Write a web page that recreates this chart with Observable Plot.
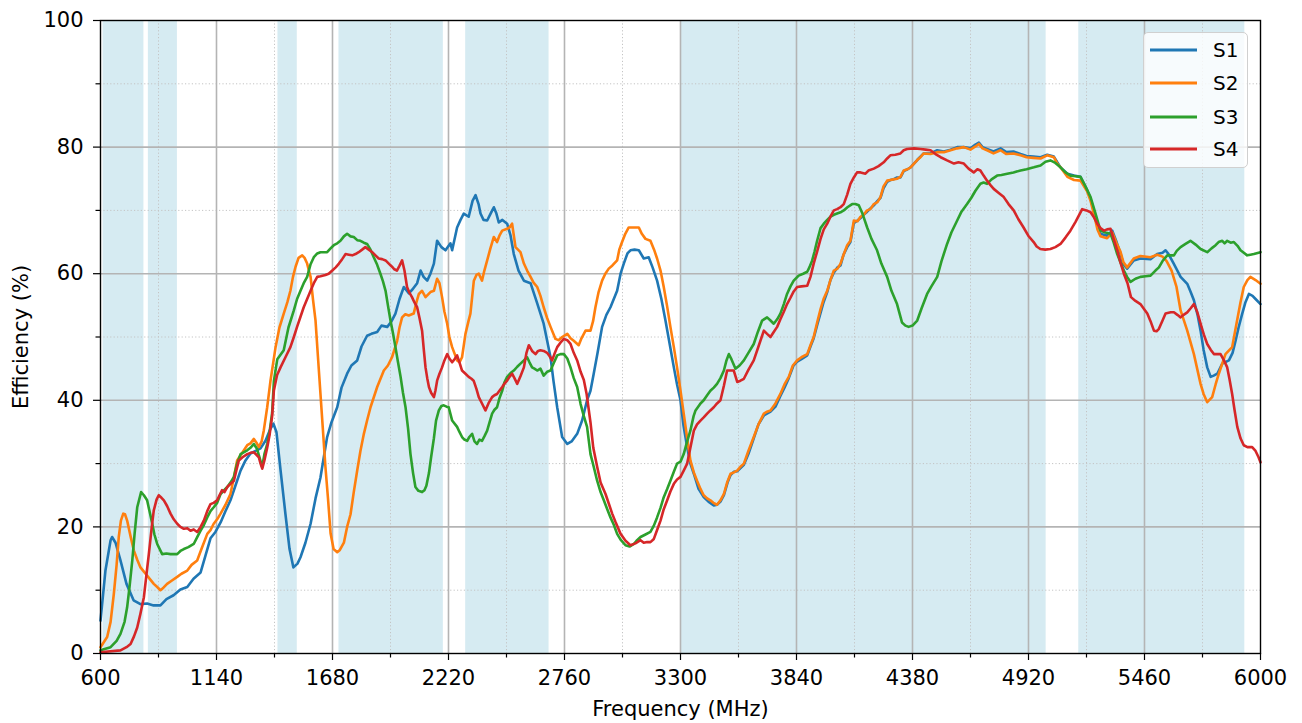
<!DOCTYPE html>
<html>
<head>
<meta charset="utf-8">
<script src="https://cdn.jsdelivr.net/npm/d3@7"></script>
<script src="https://cdn.jsdelivr.net/npm/@observablehq/plot@0.6"></script>
<style>
  html, body { margin: 0; padding: 0; background: #fff; }
  #wrap { position: relative; width: 1302px; height: 723px; }
  #wrap svg { display: block; }
  #legend { position: absolute; left: 1143px; top: 32px; width: 105px; height: 136px; box-sizing: border-box;
    border: 1px solid #d0d0d0; border-radius: 5px; background: rgba(255,255,255,0.8); }
</style>
</head>
<body>
<div id="wrap"></div>
<script>
const seriesNames = ["S1", "S2", "S3", "S4"];
const seriesColors = ["#1f77b4", "#ff7f0e", "#2ca02c", "#d62728"];

// [frequency MHz, efficiency %]
const s1 = [[600,5.2],[623,13.1],[647,17.9],[654,18.4],[670,17.5],[693,14.7],[721,11],[754,8.4],[786,7.8],[817,7.9],[847,7.6],[879,7.6],[907,8.6],[940,9.2],[972,10.1],[1004,10.5],[1033,11.8],[1066,12.8],[1089,15.5],[1112,18.2],[1135,19.2],[1159,20.7],[1182,22.5],[1205,24.2],[1228,26.5],[1252,28.9],[1275,30.5],[1298,31.6],[1322,32],[1345,32.4],[1368,33.6],[1391,35.5],[1405,36.3],[1419,35],[1438,29],[1461,22],[1480,16.5],[1498,13.6],[1517,14.2],[1531,15.2],[1554,17.5],[1578,20.5],[1601,24.5],[1624,27.8],[1655,34.2],[1675,36.5],[1702,38.9],[1722,42],[1748,44.2],[1768,45.5],[1795,46.3],[1815,48.5],[1841,50.2],[1861,50.5],[1888,50.8],[1908,51.8],[1935,51.6],[1955,52.5],[1973,53.7],[1992,56],[2012,57.9],[2035,56.9],[2052,57.5],[2074,58.5],[2090,60.5],[2104,59.5],[2121,58.9],[2136,60],[2152,61.6],[2167,65.2],[2187,64.2],[2206,63.7],[2229,64.8],[2237,63.7],[2260,67.3],[2276,68.5],[2291,69.5],[2314,69],[2332,71.5],[2346,72.4],[2360,71],[2369,69.5],[2383,68.5],[2400,68.4],[2416,69.5],[2431,70.5],[2443,69.5],[2454,68.1],[2471,68.5],[2493,67.9],[2509,66],[2524,63.1],[2546,60.5],[2571,58.9],[2602,58.5],[2633,55.3],[2663,52.1],[2695,46.8],[2709,43],[2726,38.9],[2749,34.2],[2773,33.1],[2793,33.5],[2819,34.7],[2842,36.8],[2865,40],[2881,41.5],[2896,44.2],[2914,47.5],[2935,51.6],[2955,53.5],[2974,54.7],[3005,57.3],[3021,60],[3036,61.6],[3053,63.2],[3067,63.7],[3086,63.8],[3106,63.7],[3129,62.4],[3152,62.6],[3170,61],[3191,58.9],[3211,56],[3230,52.6],[3249,49],[3269,45.2],[3284,42.5],[3300,40],[3314,36],[3331,32.6],[3346,30],[3362,28.4],[3384,26],[3408,24.7],[3430,24],[3455,23.4],[3470,23.5],[3486,24],[3502,25],[3519,27],[3533,28.2],[3548,28.7],[3565,28.8],[3595,29.8],[3616,31.5],[3641,34],[3663,36.2],[3688,37.6],[3719,38.2],[3742,39],[3765,40.7],[3784,42],[3804,43.5],[3826,45.5],[3843,46.1],[3863,46.5],[3890,47.1],[3905,48.5],[3920,49.8],[3937,52],[3952,53.8],[3966,55.5],[3983,57.1],[3998,59],[4014,60.2],[4031,61],[4045,61.3],[4059,63],[4076,64.2],[4091,65],[4107,68],[4124,68.4],[4138,68.8],[4152,69.3],[4169,69.8],[4184,70.3],[4200,70.8],[4217,71.5],[4231,72],[4245,73.5],[4262,74.5],[4277,74.8],[4291,74.9],[4308,75.2],[4324,75.2],[4339,76.2],[4357,76.5],[4371,76.8],[4387,77.4],[4403,78],[4417,78.5],[4432,79],[4464,79],[4495,79.5],[4526,79.3],[4557,79.6],[4588,80],[4619,80],[4650,79.8],[4673,80.4],[4689,80.7],[4706,80],[4727,79.7],[4757,79.3],[4790,79.8],[4817,79.2],[4850,79.3],[4883,78.9],[4911,78.6],[4943,78.5],[4976,78.4],[5007,78.8],[5038,78.5],[5054,77.6],[5069,76.8],[5101,75.8],[5132,75.5],[5162,75.3],[5193,73.2],[5209,71.8],[5224,70],[5241,67.5],[5255,66.3],[5286,66],[5310,66.8],[5330,65],[5348,63.2],[5362,61.5],[5379,60.8],[5410,62.1],[5441,62.4],[5488,62.3],[5519,63.1],[5544,63.3],[5558,63.7],[5572,63.1],[5596,61.6],[5628,59.5],[5659,58.4],[5674,57.2],[5690,55.8],[5707,53.5],[5721,51],[5735,48],[5752,45.2],[5768,43.7],[5782,43.9],[5799,44.2],[5822,45.8],[5853,46.3],[5870,47.5],[5884,49.4],[5898,51.5],[5915,53.7],[5930,55.5],[5946,56.8],[5963,56.5],[5977,56],[6000,55.2]];

const s2 = [[600,1],[631,2.6],[647,5],[662,9.4],[675,14],[685,18.4],[695,21],[706,22.1],[714,22],[724,21],[740,18.5],[755,16.3],[771,14.8],[786,13.6],[817,12.3],[848,11],[864,10.5],[879,10],[893,10.4],[910,11],[931,11.5],[957,12.1],[977,12.6],[1004,13.1],[1024,14],[1050,14.7],[1070,16.5],[1097,18.9],[1112,19.5],[1127,20.5],[1143,21.2],[1159,22.1],[1182,23.5],[1205,25.2],[1219,27.5],[1236,30.5],[1256,31.5],[1283,32.9],[1298,33.2],[1314,33.9],[1326,33.3],[1337,32.6],[1350,33.5],[1360,35.2],[1376,38.9],[1391,43],[1415,48.4],[1433,51.5],[1453,53.7],[1470,55.5],[1484,57.3],[1496,59.5],[1508,61.1],[1522,62.5],[1539,62.9],[1550,62.5],[1562,61.6],[1570,60.5],[1578,59.5],[1589,56],[1601,52.6],[1612,47],[1624,41],[1636,35],[1647,29.5],[1659,24.5],[1671,19],[1685,16.5],[1702,16],[1713,16.3],[1733,17.5],[1748,20],[1764,22],[1779,25.5],[1795,28.9],[1810,32],[1826,34.7],[1841,36.8],[1857,38.9],[1888,42.1],[1919,44.7],[1938,45.5],[1957,46.8],[1981,49.4],[1992,51.5],[2004,53.1],[2019,53.6],[2035,53.4],[2058,53.7],[2071,55.5],[2082,56.8],[2097,57.3],[2113,56.3],[2136,57.1],[2152,57.3],[2167,59.2],[2178,58.5],[2190,56.3],[2201,54],[2214,52.1],[2224,50],[2237,48.4],[2260,46.3],[2271,46],[2283,46.8],[2299,50.5],[2313,52.5],[2322,53.7],[2338,58.9],[2350,59.8],[2361,60],[2376,58.9],[2387,60.5],[2400,62.1],[2415,64],[2431,65.8],[2446,65],[2457,66],[2470,66.8],[2493,67.1],[2504,67.3],[2516,67.9],[2522,66.5],[2532,64.2],[2555,63.4],[2571,61.6],[2586,60.5],[2602,59.5],[2616,58.6],[2633,57.9],[2648,56.5],[2663,54.7],[2679,53],[2695,51.6],[2718,49.7],[2732,49.5],[2749,50],[2773,50.5],[2788,49.8],[2803,49.4],[2826,48.7],[2839,49.8],[2858,51],[2881,51],[2893,52.5],[2904,54.7],[2918,57],[2935,58.9],[2950,60],[2966,60.8],[2983,61.3],[3005,62.1],[3015,63.8],[3028,65],[3043,66.3],[3059,67.3],[3081,67.3],[3106,67.3],[3120,66.3],[3137,65.5],[3160,65.2],[3177,63.8],[3191,62.4],[3207,60.5],[3222,57.9],[3238,54.8],[3253,51.6],[3269,48.4],[3284,45.2],[3300,41.5],[3315,37.9],[3331,34],[3346,30.5],[3362,28.6],[3377,27.3],[3393,26],[3408,25],[3424,24.5],[3439,24.2],[3453,23.8],[3470,23.5],[3486,24.2],[3502,25.2],[3517,27],[3533,28.4],[3548,28.6],[3564,28.9],[3579,29.5],[3595,30],[3616,32],[3641,34.2],[3663,36.2],[3688,37.9],[3703,38.2],[3719,38.4],[3742,39.5],[3765,41],[3784,42.5],[3804,43.7],[3823,45.5],[3843,46.3],[3863,46.8],[3890,47.3],[3905,48.7],[3920,50],[3937,52.4],[3952,54.4],[3966,56],[3983,57.3],[3998,59],[4014,60.5],[4031,60.8],[4045,61.6],[4059,63],[4076,64.5],[4091,65.2],[4107,68.4],[4124,68.3],[4138,69],[4152,69.3],[4169,70],[4184,70.2],[4200,71],[4217,71.3],[4231,72.1],[4245,73.8],[4262,74.7],[4277,74.8],[4291,74.9],[4308,75],[4324,75.3],[4339,76.3],[4357,76.5],[4371,76.8],[4387,77.4],[4403,78],[4417,78.4],[4432,79],[4464,78.9],[4495,79.2],[4526,79.2],[4557,79.5],[4588,79.8],[4619,80],[4650,79.6],[4673,80.1],[4689,80.5],[4706,79.8],[4727,79.5],[4757,79],[4790,79.5],[4817,78.9],[4850,79],[4883,78.7],[4911,78.4],[4943,78.3],[4976,78.2],[5007,78.7],[5038,78.4],[5054,77.4],[5069,76.8],[5101,75.3],[5132,74.8],[5162,74.7],[5193,73],[5209,71.5],[5224,69.5],[5241,67],[5255,65.9],[5286,65.6],[5310,66.5],[5330,64.8],[5348,63.5],[5362,61.8],[5379,61],[5410,62.4],[5441,62.8],[5488,62.6],[5519,63],[5544,62.7],[5563,62],[5586,60.5],[5609,57.9],[5628,54.2],[5659,51],[5690,47.3],[5721,42.6],[5735,41],[5752,39.7],[5775,40.5],[5791,42.5],[5806,44.2],[5837,47.3],[5868,48.4],[5891,52.6],[5907,55.5],[5922,57.9],[5939,59],[5953,59.5],[5977,59],[6000,58.4]];

const s3 = [[600,0.5],[647,1],[675,2],[693,3.1],[712,5],[724,7.3],[735,10.5],[748,14.7],[759,19],[771,23.1],[789,25.5],[802,25],[817,24.2],[828,22.5],[841,20.5],[851,18.8],[864,17.3],[887,15.7],[907,15.8],[926,15.7],[957,15.7],[972,16.2],[988,16.5],[1009,16.8],[1034,17.3],[1052,18.5],[1066,19.4],[1081,20.3],[1097,21.5],[1112,22.5],[1127,23.1],[1143,23.8],[1159,25.2],[1190,26.3],[1205,27],[1221,27.9],[1236,30],[1252,31.5],[1283,32.1],[1298,32.5],[1314,33.1],[1329,32.3],[1340,31],[1353,29.5],[1363,31.5],[1376,33.1],[1387,35],[1399,38],[1407,43],[1423,46.5],[1453,47.9],[1475,51.5],[1500,54.2],[1515,56],[1531,57.3],[1546,58.5],[1562,59.5],[1578,61.5],[1593,62.6],[1609,63.2],[1624,63.4],[1655,63.4],[1671,64],[1686,64.5],[1702,64.8],[1717,65.2],[1733,65.9],[1748,66.3],[1764,65.9],[1779,65.8],[1795,65.3],[1810,65.2],[1826,64.9],[1841,64.7],[1857,63.8],[1872,62.6],[1888,61.4],[1903,60],[1915,58.8],[1927,57.3],[1938,55],[1950,52.6],[1962,50.5],[1973,48.4],[1985,46],[1997,43.7],[2008,41.2],[2020,38.9],[2032,35.5],[2043,31.5],[2055,28.5],[2066,26.3],[2080,25.7],[2097,25.5],[2108,25.8],[2117,26.5],[2129,28.5],[2139,31],[2152,34],[2162,36.8],[2175,38.4],[2187,39.1],[2198,39.2],[2211,39],[2221,38.9],[2237,36.8],[2260,35.8],[2271,35],[2283,34.2],[2294,33.8],[2307,33.6],[2317,34.2],[2330,34.7],[2341,33.5],[2353,33.1],[2364,33.8],[2376,33.6],[2387,34.3],[2400,35.2],[2411,36.5],[2423,37.9],[2434,38.5],[2446,38.9],[2457,40.3],[2470,41.5],[2480,42.8],[2493,43.7],[2509,44.3],[2524,44.7],[2540,45.3],[2555,45.8],[2571,46.3],[2586,46.8],[2597,46],[2609,45.2],[2620,45],[2633,44.7],[2648,45],[2663,43.9],[2679,44.5],[2695,44.7],[2709,45.8],[2726,47.1],[2741,47.3],[2757,47.3],[2773,46.6],[2788,45.2],[2803,43.5],[2819,42.1],[2835,39.4],[2850,37.5],[2865,35.8],[2881,31.5],[2896,29.5],[2912,27.3],[2928,25.5],[2943,24.2],[2959,22.8],[2974,21.5],[2990,20.3],[3005,18.9],[3021,18],[3044,17.1],[3063,16.9],[3083,17.3],[3098,17.9],[3114,18.4],[3137,18.8],[3160,19.2],[3176,20.2],[3191,21.5],[3207,23],[3222,24.7],[3238,26],[3253,27.3],[3269,28.7],[3284,30],[3300,30.3],[3315,31.5],[3331,33.5],[3346,35.2],[3361,37.5],[3370,38.4],[3393,39.5],[3408,40],[3424,40.8],[3439,41.5],[3455,42],[3470,42.6],[3486,43.5],[3502,44.7],[3514,46.3],[3525,47.3],[3537,46.5],[3556,45],[3575,45.5],[3595,46.3],[3616,47.5],[3641,48.9],[3660,50.8],[3680,52.6],[3703,53.1],[3719,52.6],[3734,52.1],[3750,52.8],[3765,53.7],[3781,55.2],[3796,56.8],[3812,58],[3827,58.9],[3850,59.7],[3871,60],[3890,60.3],[3900,61],[3913,62.1],[3924,63.5],[3936,65.2],[3952,67.2],[3967,67.9],[3983,68.5],[3998,69],[4014,69.3],[4029,69.5],[4045,69.7],[4060,70],[4077,70.5],[4099,71],[4114,71],[4130,70.8],[4147,69.5],[4169,67.3],[4189,65.5],[4215,63.7],[4235,61.6],[4262,59.5],[4282,57.3],[4308,55.2],[4331,52.3],[4347,51.8],[4362,51.6],[4380,51.8],[4402,52.6],[4422,54.5],[4448,56.8],[4468,58],[4495,59.5],[4515,62],[4541,64.7],[4561,66.5],[4588,68.4],[4608,69.8],[4634,71],[4654,72],[4673,73.1],[4696,74.2],[4711,74.4],[4727,74.2],[4748,74.9],[4774,75.5],[4794,75.6],[4821,75.8],[4850,76],[4883,76.3],[4911,76.5],[4945,76.8],[4976,77.1],[4999,77.7],[5022,77.9],[5045,77.5],[5069,76.8],[5092,76],[5115,75.5],[5139,75.4],[5162,75.3],[5185,73.8],[5209,72.1],[5232,69.5],[5255,66.8],[5278,66.5],[5302,66.3],[5316,65],[5333,63.1],[5348,61.8],[5364,60.5],[5379,59.5],[5395,58.7],[5418,59.2],[5441,59.5],[5465,59.6],[5488,59.7],[5511,60.5],[5527,61],[5544,62],[5566,62.9],[5597,62.9],[5610,63.6],[5628,64.2],[5651,64.7],[5674,65.2],[5698,64.6],[5721,63.9],[5752,63.4],[5772,64],[5791,64.5],[5805,65],[5822,65.2],[5833,64.8],[5845,65.2],[5861,64.9],[5876,65],[5893,64.4],[5907,63.7],[5938,62.9],[5953,63],[5969,63.1],[6000,63.4]];

const s4 = [[600,0.2],[693,0.5],[721,1],[740,1.5],[756,2.7],[771,4.1],[786,6.3],[802,8.9],[814,12.5],[825,15.7],[838,19.8],[848,22.6],[861,24.3],[871,25],[884,24.6],[895,24.2],[910,23.3],[926,22.1],[941,21.2],[957,20.5],[972,20],[988,19.7],[1004,19.8],[1019,19.4],[1034,19.6],[1050,19.2],[1066,20],[1081,21],[1097,22.5],[1112,23.6],[1127,23.8],[1143,24.2],[1154,25],[1166,25.8],[1177,25.5],[1190,26.3],[1205,26.8],[1221,27.3],[1233,29],[1244,30.5],[1261,31],[1283,31.5],[1298,31.7],[1314,31.8],[1326,31.4],[1337,31],[1345,30],[1353,29.2],[1363,30.5],[1376,32.5],[1387,34.5],[1399,37.5],[1407,41.5],[1422,44],[1438,45.2],[1461,46.8],[1484,48.4],[1500,50],[1515,51.6],[1531,53.2],[1546,54.7],[1562,56],[1578,57.3],[1593,58.5],[1609,59.5],[1624,59.6],[1647,59.8],[1662,60],[1679,60.5],[1695,61],[1710,61.6],[1725,62.3],[1741,63.1],[1756,63],[1772,62.9],[1787,63.1],[1802,63.4],[1818,63.8],[1833,64.2],[1849,63.8],[1865,63.4],[1880,62.9],[1895,62.4],[1911,62.3],[1927,62.1],[1942,61.6],[1957,61.1],[1968,60.7],[1980,60.5],[1991,61.2],[2004,62.1],[2015,60.5],[2027,57.9],[2038,57],[2050,56.3],[2061,55.5],[2074,54.7],[2085,53],[2097,51],[2105,48],[2113,45.2],[2121,43.5],[2129,42.1],[2139,41.2],[2152,40.5],[2159,41.5],[2167,43.1],[2178,44.2],[2190,45.2],[2201,46.3],[2214,47.3],[2224,46.6],[2237,46],[2248,46.5],[2260,47.1],[2271,46],[2283,44.7],[2299,44.2],[2314,43.7],[2327,43.4],[2337,43.1],[2350,41.8],[2361,40.5],[2376,39.5],[2392,38.4],[2406,39.5],[2423,40.5],[2434,40.8],[2446,41],[2457,41.5],[2470,42.1],[2480,42.6],[2493,43.1],[2504,43.7],[2516,44.2],[2527,43.5],[2540,42.6],[2555,43.8],[2571,45.2],[2583,47.5],[2594,48.7],[2609,47.8],[2625,47.3],[2637,47.8],[2648,47.9],[2663,47.8],[2679,47.5],[2690,47],[2702,46.3],[2713,47.3],[2726,48.4],[2741,49.1],[2757,49.7],[2773,49.5],[2788,48.9],[2803,47.5],[2819,46.3],[2835,44.5],[2850,43.2],[2863,41],[2881,36.5],[2894,32.5],[2912,29.5],[2928,27],[2951,25.2],[2966,23.7],[2982,22.1],[2997,20.8],[3021,18.9],[3044,17.8],[3067,17.1],[3090,17.4],[3114,17.9],[3129,17.5],[3145,17.6],[3160,17.6],[3176,18.1],[3191,19.5],[3207,21],[3222,22.8],[3238,24.2],[3253,25.6],[3269,26.8],[3284,27.5],[3300,27.9],[3315,28.9],[3331,30],[3346,32.5],[3362,35.2],[3377,36.2],[3393,36.8],[3408,37.3],[3424,37.9],[3439,38.4],[3455,38.9],[3470,39.5],[3486,40],[3502,42.3],[3517,44.7],[3533,44.7],[3548,44.7],[3564,42.9],[3579,43.1],[3595,43.4],[3616,44.8],[3641,46.3],[3663,48.5],[3688,51],[3703,50.5],[3719,50],[3734,50.8],[3750,51.6],[3765,52.8],[3781,54],[3796,55.2],[3812,56.2],[3827,57.2],[3843,57.9],[3863,58],[3890,58.1],[3905,59.5],[3920,61.6],[3936,63.5],[3952,65.5],[3967,67],[3983,67.9],[3998,69],[4014,70],[4029,70.2],[4045,70.5],[4060,71],[4076,72.5],[4091,74.2],[4107,75.2],[4122,76],[4138,76],[4161,75.8],[4175,76.3],[4200,76.6],[4222,77],[4246,77.6],[4262,78.2],[4277,78.7],[4300,78.8],[4324,79],[4339,79.5],[4355,79.7],[4387,79.8],[4417,79.7],[4441,79.6],[4464,79.5],[4487,78.9],[4511,78.4],[4541,77.9],[4573,77.4],[4594,77.6],[4619,77.4],[4641,76.6],[4665,76],[4682,76.5],[4696,76.3],[4711,75.5],[4727,74.7],[4743,74],[4758,73.4],[4780,72.8],[4805,72.1],[4827,71],[4851,70],[4873,68.6],[4897,67.3],[4919,66],[4944,65],[4958,64.3],[4975,63.9],[4998,63.8],[5022,63.9],[5045,64.2],[5069,64.7],[5092,65.7],[5115,66.8],[5139,68.2],[5170,70.2],[5190,70],[5209,69.7],[5223,69],[5240,67.9],[5255,67.2],[5271,66.8],[5286,67],[5302,67.1],[5316,65.5],[5333,63.7],[5348,61.8],[5364,60],[5381,58.5],[5397,56.3],[5418,55.7],[5441,55.2],[5456,54.5],[5473,53.7],[5488,52.5],[5504,51],[5516,50.9],[5527,51.3],[5544,52.6],[5558,53.7],[5582,53.9],[5597,53.9],[5613,53.5],[5628,53.1],[5642,53.5],[5659,53.9],[5674,54.5],[5690,55.2],[5705,54],[5721,52.1],[5736,50.4],[5752,48.9],[5768,48],[5783,47.3],[5799,47.3],[5814,47.3],[5830,46.3],[5845,45.2],[5856,43.3],[5868,41],[5879,38.5],[5892,35.8],[5907,34],[5922,32.9],[5939,32.6],[5961,32.6],[5977,32],[5991,31],[6000,30.2]];

// highlighted frequency bands [start MHz, end MHz]
const bands = [[612,802],[823,958],[1426,1516],[1710,2196],[2300,2688],[3300,5002],[5154,5927]];

const xTicks = d3.range(600, 6001, 540);
const xMinorTicks = d3.range(870, 6000, 540);
const yTicks = d3.range(0, 101, 20);
const yMinorTicks = d3.range(10, 100, 20);

const seriesData = [s1, s2, s3, s4];
const rows = [];
seriesData.forEach((s, i) => s.forEach(([f, e]) => rows.push({series: seriesNames[i], f, e})));
const bandRows = bands.map(([a, b]) => ({a, b}));

const chart = Plot.plot({
  width: 1302,
  height: 723,
  marginLeft: 100,
  marginRight: 42,
  marginTop: 20,
  marginBottom: 70,
  style: {fontFamily: "'DejaVu Sans'", fontSize: "21px", color: "#000", background: "transparent", overflow: "visible"},
  x: {domain: [600, 6000]},
  y: {domain: [0, 100]},
  color: {domain: seriesNames, range: seriesColors},
  marks: [
    Plot.rect(bandRows, {x1: "a", x2: "b", fill: "#add8e6", fillOpacity: 0.5}),
    Plot.ruleX(xMinorTicks, {stroke: "#c4c4c4", strokeWidth: 1, strokeDasharray: "1.2,2.2"}),
    Plot.ruleY(yMinorTicks, {stroke: "#c4c4c4", strokeWidth: 1, strokeDasharray: "1.2,2.2"}),
    Plot.ruleX(xTicks.slice(1, -1), {stroke: "#b4b4b4", strokeWidth: 1.6}),
    Plot.ruleY(yTicks.slice(1, -1), {stroke: "#b4b4b4", strokeWidth: 1.6}),
    Plot.line(rows, {x: "f", y: "e", z: "series", stroke: "series", strokeWidth: 2.6, strokeLinejoin: "round"}),
    Plot.frame({stroke: "#000", strokeWidth: 1.4}),
    Plot.axisX(xMinorTicks, {tickSize: 4.5, strokeWidth: 1.2, tickFormat: () => "", label: null}),
    Plot.axisY(yMinorTicks, {tickSize: 4.5, strokeWidth: 1.2, tickFormat: () => "", label: null}),
    Plot.axisX(xTicks, {tickSize: 7, tickPadding: 10, strokeWidth: 1.2, tickFormat: d => String(d),
      label: "Frequency (MHz)", labelAnchor: "center", labelArrow: "none", labelOffset: 62}),
    Plot.axisY(yTicks, {tickSize: 7, tickPadding: 10, strokeWidth: 1.2, tickFormat: d => String(d),
      label: "Efficiency (%)", labelAnchor: "center", labelArrow: "none", labelOffset: 87})
  ]
});

const wrap = document.getElementById("wrap");
wrap.appendChild(chart);

// legend (inside the plot, upper right)
const legend = document.createElement("div");
legend.id = "legend";
const ns = "http://www.w3.org/2000/svg";
const lsvg = document.createElementNS(ns, "svg");
lsvg.setAttribute("width", 103);
lsvg.setAttribute("height", 134);
lsvg.style.display = "block";
const rowY = [17, 50, 84, 116];
seriesNames.forEach((name, i) => {
  const ln = document.createElementNS(ns, "line");
  ln.setAttribute("x1", 6); ln.setAttribute("x2", 53);
  ln.setAttribute("y1", rowY[i]); ln.setAttribute("y2", rowY[i]);
  ln.setAttribute("stroke", seriesColors[i]); ln.setAttribute("stroke-width", 3);
  lsvg.appendChild(ln);
  const t = document.createElementNS(ns, "text");
  t.setAttribute("x", 69); t.setAttribute("y", rowY[i]);
  t.setAttribute("dy", "0.36em");
  t.setAttribute("font-family", "DejaVu Sans");
  t.setAttribute("font-size", "20px");
  t.setAttribute("fill", "#000");
  t.textContent = name;
  lsvg.appendChild(t);
});
legend.appendChild(lsvg);
wrap.appendChild(legend);
</script>
</body>
</html>
